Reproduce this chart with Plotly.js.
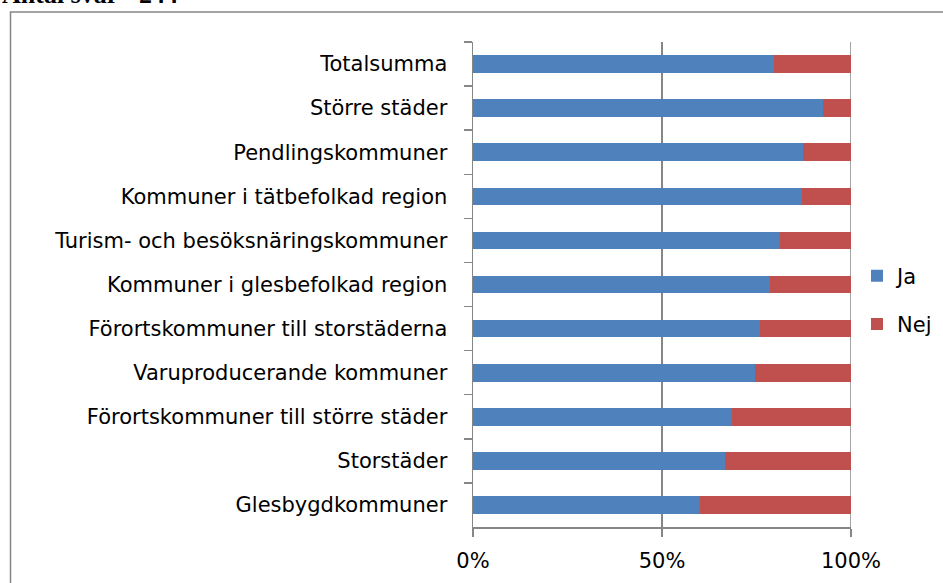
<!DOCTYPE html>
<html><head><meta charset="utf-8">
<script src="https://cdn.plot.ly/plotly-3.0.1.min.js"></script>
<style>html,body{margin:0;padding:0;background:#fff;}#chart{width:943px;height:583px;}</style>
</head><body><div id="chart"></div>
<script>
const categories = ["Totalsumma","Större städer","Pendlingskommuner","Kommuner i tätbefolkad region","Turism- och besöksnäringskommuner","Kommuner i glesbefolkad region","Förortskommuner till storstäderna","Varuproducerande kommuner","Förortskommuner till större städer","Storstäder","Glesbygdkommuner"];
const jaValues  = [0.795,0.926,0.872,0.870,0.812,0.786,0.758,0.745,0.684,0.666,0.600];
const nejValues = [0.205,0.074,0.128,0.130,0.188,0.214,0.242,0.255,0.316,0.334,0.400];
const seriesNames = ["Ja","Nej"];
const xTickVals = [0,0.5,1];
const xTickText = ["0%","50%","100%"];
const titleText = "Antal svar =244";

const W=943,H=583, L=473, R=851, T=42, B=527;
const pw=R-L, ph=B-T;
const px=(p)=> (p-L)/pw, py=(p)=> (B-p)/ph;
const font = {family:"'DejaVu Sans', sans-serif", size:21, color:"#000"};
const grey="#868686";

const data=[
 {type:"bar",orientation:"h",name:seriesNames[0],y:categories,x:jaValues,marker:{color:"#4F81BD",line:{width:0}},legendgroup:"a",hoverinfo:"none"},
 {type:"bar",orientation:"h",name:seriesNames[1],y:categories,x:nejValues,marker:{color:"#C0504D",line:{width:0}},legendgroup:"b",hoverinfo:"none"}
];
const layout={
 width:W,height:H,margin:{l:L,r:W-R,t:T,b:H-B,pad:0,autoexpand:false},
 paper_bgcolor:"#fff",plot_bgcolor:"#fff",
 barmode:"stack",bargap:0.6,font:font,
 xaxis:{range:[0,1],tickvals:xTickVals,ticktext:xTickText,showgrid:true,gridcolor:grey,gridwidth:1.5,
   showline:true,linecolor:grey,linewidth:1.5,ticks:"outside",ticklen:8,tickcolor:grey,tickwidth:1.5,zeroline:false,
   tickfont:font,ticklabelstandoff:6,automargin:false,fixedrange:true},
 yaxis:{type:"category",categoryorder:"array",categoryarray:categories,autorange:"reversed",tickson:"boundaries",
   showline:true,linecolor:grey,linewidth:1.5,ticks:"outside",ticklen:8,tickcolor:grey,tickwidth:1.5,showgrid:false,
   tickfont:font,ticklabelstandoff:20,automargin:false,fixedrange:true},
 legend:{x:px(857),y:py(300),xanchor:"left",yanchor:"middle",traceorder:"grouped",tracegroupgap:18,font:font,bgcolor:"rgba(0,0,0,0)"},
 shapes:[
  {type:"rect",xref:"paper",yref:"paper",x0:px(10.5),x1:px(946),y0:py(590),y1:py(12),line:{color:grey,width:1.5},fillcolor:"rgba(0,0,0,0)",layer:"below"},
  {type:"line",xref:"x",yref:"paper",x0:1,x1:1,y0:0,y1:1,line:{color:grey,width:1.5},layer:"below"}
 ],
 annotations:[{xref:"paper",yref:"paper",x:px(0),y:py(11.5),xanchor:"left",yanchor:"bottom",showarrow:false,text:"<b>"+titleText+"</b>",
   font:{family:"'Liberation Serif', 'Times New Roman', serif",size:26,color:"#000"}}]
};
Plotly.newPlot("chart",data,layout,{displayModeBar:false,staticPlot:true});
</script></body></html>
